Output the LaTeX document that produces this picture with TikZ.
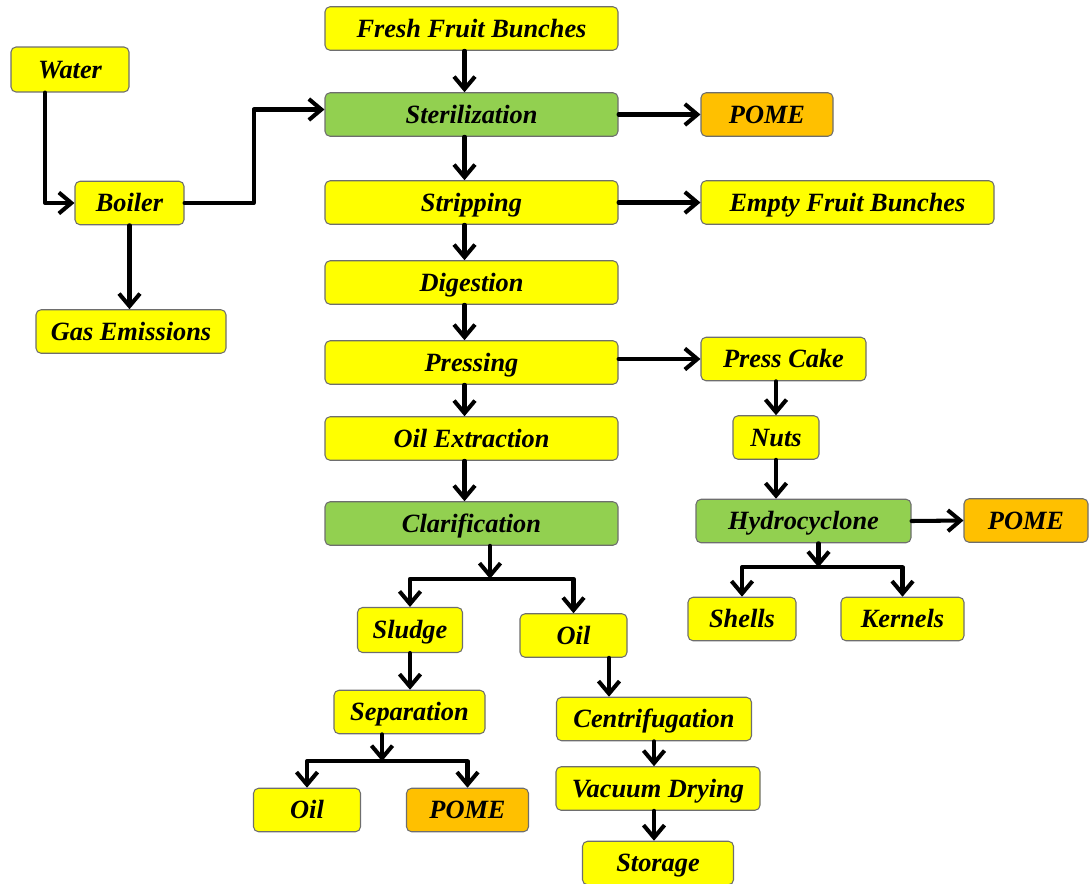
\documentclass[tikz,border=0pt]{standalone}
\usepackage{fontspec}
\setmainfont{Liberation Serif}
\usetikzlibrary{arrows.meta}
\definecolor{boxyellow}{RGB}{255,255,0}
\definecolor{boxgreen}{RGB}{146,208,80}
\definecolor{boxorange}{RGB}{255,192,0}
\definecolor{boxline}{RGB}{110,110,110}
\begin{document}
\begin{tikzpicture}[x=0.02cm, y=-0.02cm, line cap=round, line join=round,
		box/.style={rectangle, rounded corners=0.1cm, draw=boxline, line width=0.6pt, fill=boxyellow,
			minimum height=0.87cm, inner sep=0pt, text height=11.5pt, text depth=1.3pt,
			font=\fontsize{15}{18}\selectfont\bfseries\itshape},
		greenbox/.style={box, fill=boxgreen},
		orangebox/.style={box, fill=boxorange},
		wd/.style={minimum width=#1*0.02cm},
		arr/.style={line width=2.3pt, -{Straight Barb[length=0.25cm, width=0.42cm]}}]
	\useasboundingbox (0,0) rectangle (1092,883);
	
	% main line
	\node[box, wd=293] (ffb) at (471.5,28.5) {Fresh Fruit Bunches};
	\node[greenbox, wd=293] (steril) at (471.5,114.5) {Sterilization};
	\node[box, wd=293] (strip) at (471.5,202.5) {Stripping};
	\node[box, wd=293] (digest) at (471.5,282.5) {Digestion};
	\node[box, wd=293] (press) at (471.5,362.5) {Pressing};
	\node[box, wd=293] (oilext) at (471.5,438.5) {Oil Extraction};
	\node[greenbox, wd=293] (clar) at (471.5,523.5) {Clarification};
	
	% boiler side
	\node[box, wd=118, minimum height=0.9cm] (water) at (70,69.5) {Water};
	\node[box, wd=109] (boiler) at (129.5,203) {Boiler};
	\node[box, wd=190] (gas) at (131,331.5) {Gas Emissions};
	
	% outputs to the right
	\node[orangebox, wd=132] (pome1) at (767,114.5) {POME};
	\node[box, wd=293] (efb) at (847.5,202.5) {Empty Fruit Bunches};
	\node[box, wd=165] (cake) at (783.5,359) {Press Cake};
	\node[box, wd=86] (nuts) at (776,437.5) {Nuts};
	\node[greenbox, wd=215] (hydro) at (803.5,521) {Hydrocyclone};
	\node[orangebox, wd=124] (pome2) at (1026,520.5) {POME};
	\node[box, wd=108] (shells) at (742,619) {Shells};
	\node[box, wd=123] (kernels) at (902.5,619) {Kernels};
	
	% below clarification
	\node[box, wd=105, minimum height=0.9cm] (sludge) at (410,630) {Sludge};
	\node[box, wd=107] (oilr) at (573.5,635.5) {Oil};
	\node[box, wd=151] (separ) at (409.5,712) {Separation};
	\node[box, wd=107] (oill) at (307,810) {Oil};
	\node[orangebox, wd=122] (pome3) at (467.5,810) {POME};
	\node[box, wd=195] (centri) at (654,719) {Centrifugation};
	\node[box, wd=204] (vacuum) at (658,788.5) {Vacuum Drying};
	\node[box, wd=151] (storage) at (658,863) {Storage};
	
	\foreach \a/\b in {ffb/steril, steril/strip, strip/digest, digest/press, press/oilext, oilext/clar}
		\draw[arr] ([xshift=-0.14cm]\a.south) -- ([xshift=-0.14cm]\b.north);
	
	\draw[arr] ([xshift=-0.5cm]water.south) |- (boiler.west);
	\draw[arr] (boiler.east) -- ++(69,0) |- ([yshift=0.1cm]steril.west);
	\draw[arr] (boiler.south) -- (boiler.south |- gas.north);
	
	\draw[arr] (steril.east) -- (pome1.west);
	\draw[arr] (strip.east) -- (efb.west);
	\draw[arr] (press.east |- cake) -- (cake.west);
	\draw[arr] (nuts.north |- cake.south) -- (nuts.north);
	\draw[arr] (nuts.south) -- (nuts.south |- hydro.north);
	\draw[arr] (hydro.east) -- (pome2.west);
	\draw[arr] ([xshift=0.3cm]hydro.south) -- ++(0,24) coordinate (hbar);
	\draw[arr] (hbar) -| (shells.north);
	\draw[arr] (hbar) -| (kernels.north);
	
	\draw[arr] ([xshift=0.37cm]clar.south) -- ++(0,33) coordinate (cbar);
	\draw[arr] (cbar) -| (sludge.north);
	\draw[arr] (cbar) -| (oilr.north);
	\draw[arr] (sludge.south) -- (sludge.south |- separ.north);
	\draw[arr] ([xshift=-0.55cm]separ.south) -- ++(0,27) coordinate (sbar);
	\draw[arr] (sbar) -| (oill.north);
	\draw[arr] (sbar) -| (pome3.north);
	
	\draw[arr] ([xshift=0.71cm]oilr.south) -- ([xshift=0.71cm]oilr.south |- centri.north);
	\draw[arr] (centri.south) -- (centri.south |- vacuum.north);
	\draw[arr] (centri.south |- vacuum.south) -- (centri.south |- storage.north);
\end{tikzpicture}
\end{document}
